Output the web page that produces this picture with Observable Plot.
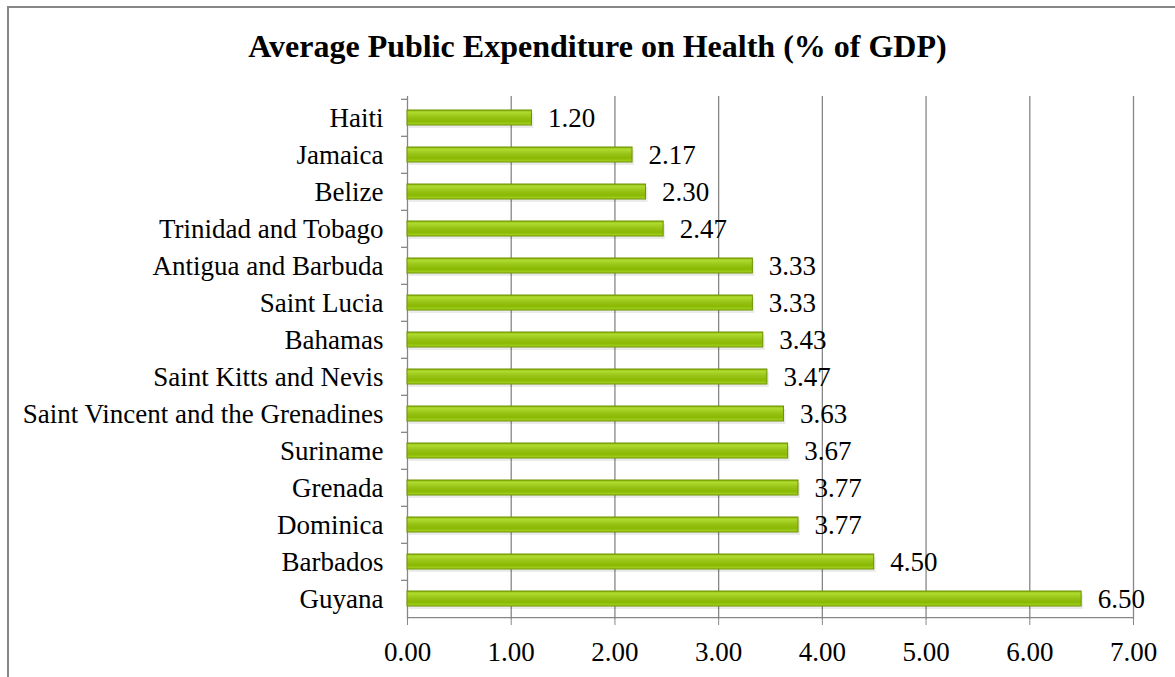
<!DOCTYPE html>
<html>
<head>
<meta charset="utf-8">
<script src="https://cdn.jsdelivr.net/npm/d3@7"></script>
<script src="https://cdn.jsdelivr.net/npm/@observablehq/plot@0.6"></script>
<style>
  html, body { margin: 0; padding: 0; background: #fff; }
  #wrap { position: relative; width: 1175px; height: 677px; overflow: hidden; font-family: "Liberation Serif", "Times New Roman", serif; }
  #frame { position: absolute; left: 7px; top: 6px; width: 1175px; height: 700px; border-left: 2px solid #878787; border-top: 2px solid #878787; box-sizing: border-box; pointer-events: none; }
  #title { position: absolute; left: 10px; width: 1175px; top: 27px; text-align: center; font-weight: bold; font-size: 32px; line-height: 38px; color: #000; }
  #chart { position: absolute; left: 0; top: 0; }
</style>
</head>
<body>
<div id="wrap">
  <div id="chart"></div>
  <div id="frame"></div>
  <div id="title">Average Public Expenditure on Health (% of GDP)</div>
</div>
<script>
const countries = ["Haiti", "Jamaica", "Belize", "Trinidad and Tobago", "Antigua and Barbuda", "Saint Lucia", "Bahamas", "Saint Kitts and Nevis", "Saint Vincent and the Grenadines", "Suriname", "Grenada", "Dominica", "Barbados", "Guyana"];
const values = [1.20, 2.17, 2.30, 2.47, 3.33, 3.33, 3.43, 3.47, 3.63, 3.67, 3.77, 3.77, 4.50, 6.50];
const xTicks = [0, 1, 2, 3, 4, 5, 6, 7];

const data = countries.map((c, i) => ({country: c, value: values[i]}));

const W = 1175, H = 677, mTop = 96, mBottom = 58, mLeft = 407, mRight = 42;
const step = (H - mTop - mBottom) / countries.length;
const tickLen = 6 * 7 / (W - mLeft - mRight);
const FS = 27;

const chart = Plot.plot({
  width: W,
  height: H,
  marginTop: mTop,
  marginBottom: mBottom,
  marginLeft: mLeft,
  marginRight: mRight,
  style: {fontFamily: '"Liberation Serif", "Times New Roman", serif', fontSize: FS + "px", color: "#000", background: "transparent"},
  x: {domain: [0, 7]},
  y: {domain: countries, paddingInner: 0.6, paddingOuter: 0.3},
  marks: [
    Plot.gridX(xTicks.slice(1), {stroke: "#878787", strokeOpacity: 1, strokeWidth: 1.3}),
    Plot.ruleX([0], {stroke: "#878787", strokeWidth: 1.3}),
    Plot.ruleY([countries[countries.length - 1]], {x1: 0, x2: 7, dy: step / 2, stroke: "#878787", strokeWidth: 1.3}),
    // category tick marks at band boundaries
    Plot.ruleY(countries, {x1: -tickLen, x2: 0, dy: -step / 2, stroke: "#878787", strokeWidth: 1.3}),
    // shadow
    Plot.barX(data, {x: "value", y: "country", fill: "#000", fillOpacity: 0.08, dx: 2, dy: 3}),
    Plot.barX(data, {x: "value", y: "country", fill: "url(#barGrad)", stroke: "#6f9200", strokeWidth: 1}),
    Plot.text(data, {x: "value", y: "country", text: d => d.value.toFixed(2), textAnchor: "start", dx: 16, fill: "#000", fontSize: FS}),
    Plot.axisY({tickSize: 0, tickPadding: 24, fontSize: FS, label: null}),
    Plot.axisX({ticks: xTicks, tickFormat: d3.format(".2f"), tickSize: 6, tickPadding: 16, stroke: "#878787", fontSize: FS, label: null})
  ]
});

const svg = d3.select(chart);
const defs = svg.insert("defs", ":first-child");
const g = defs.append("linearGradient").attr("id", "barGrad").attr("x1", 0).attr("y1", 0).attr("x2", 0).attr("y2", 1);
[[0, "#89b40a"], [0.15, "#b0db2e"], [0.45, "#98c418"], [0.75, "#8ab802"], [1, "#a6d626"]].forEach(([o, c]) =>
  g.append("stop").attr("offset", o).attr("stop-color", c));
svg.selectAll("[aria-label='y-axis tick label'] text, [aria-label='x-axis tick label'] text").attr("fill", "#000");

document.getElementById("chart").appendChild(chart);
</script>
</body>
</html>
